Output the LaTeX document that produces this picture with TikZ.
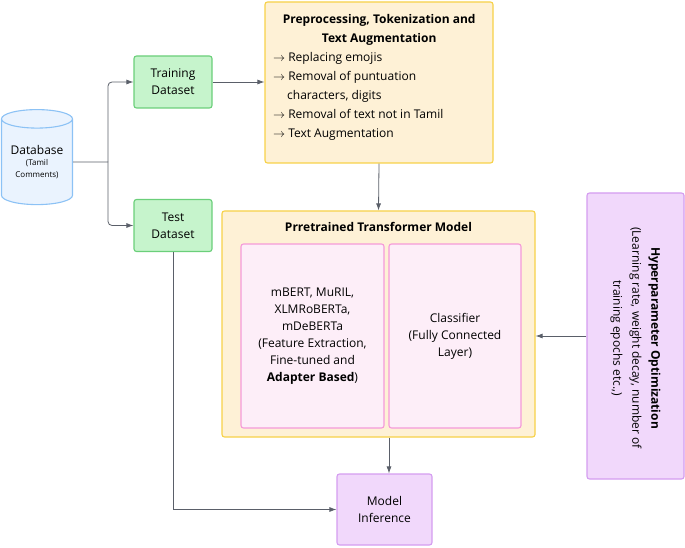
\documentclass[tikz,border=0pt]{standalone}
\usepackage{fontspec}
\setmainfont{Open Sans}
\usetikzlibrary{shapes.geometric,arrows.meta}
\definecolor{gF}{HTML}{C6F4CC}\definecolor{gD}{HTML}{6BCF7A}
\definecolor{bF}{HTML}{EAF3FE}\definecolor{bD}{HTML}{8CC2F5}
\definecolor{yF}{HTML}{FEF1D6}\definecolor{yD}{HTML}{F7D148}
\definecolor{pF}{HTML}{FDEEF8}\definecolor{pD}{HTML}{F59AD9}
\definecolor{vF}{HTML}{F1D8FB}\definecolor{vD}{HTML}{D49DF0}
\definecolor{ar}{HTML}{5A5F69}
\begin{document}
\begin{tikzpicture}[x=1pt,y=-1pt,
 box/.style={draw,rounded corners=2.5pt,line width=1.1pt,align=center,inner sep=0pt,font=\fontsize{12}{17}\selectfont},
 gb/.style={box,fill=gF,draw=gD,minimum width=78pt,minimum height=52pt},
 arr/.style={draw=ar,line width=0.8pt,-{Latex[length=7pt,width=5pt]}}]
\useasboundingbox (0,0) rectangle (685,548);
\node[cylinder,shape border rotate=90,aspect=0.35,draw=bD,fill=bF,line width=1.1pt,minimum width=71pt,minimum height=95pt,inner sep=0pt,align=center] (db) at (37,162) {\fontsize{12}{14}\selectfont Database\\[-1pt]\fontsize{8}{10}\selectfont (Tamil\\\fontsize{8}{10}\selectfont Comments)};
\node[gb] (tr) at (173,82) {Training\\Dataset};
\node[gb] (te) at (173,225.5) {Test\\Dataset};
\node[box,fill=yF,draw=yD,minimum width=228pt,minimum height=161pt] (pp) at (379,82.5) {};
\node[anchor=north west,align=left,font=\fontsize{12}{19}\selectfont,inner sep=0pt] (ppt) at (273,14) {\hspace*{0pt}\makebox[212pt]{\bfseries Preprocessing, Tokenization and}\\\makebox[212pt]{\bfseries Text Augmentation}\\$\rightarrow$ Replacing emojis\\$\rightarrow$ Removal of puntuation\\\hspace*{14pt}characters, digits\\$\rightarrow$ Removal of text not in Tamil\\$\rightarrow$ Text Augmentation};
\node[box,fill=yF,draw=yD,minimum width=313pt,minimum height=226pt] (tm) at (378.5,324) {};
\node[font=\bfseries\fontsize{12}{14}\selectfont] (tmt) at (378.5,227) {Prretrained Transformer Model};
\node[box,fill=pF,draw=pD,minimum width=143pt,minimum height=184pt] (bl) at (312.5,336) {mBERT, MuRIL,\\XLMRoBERTa,\\mDeBERTa\\(Feature Extraction,\\Fine-tuned and\\\textbf{Adapter Based})};
\node[box,fill=pF,draw=pD,minimum width=132pt,minimum height=184pt] (cl) at (455,336) {Classifier\\(Fully Connected\\Layer)};
\node[box,fill=vF,draw=vD,minimum width=97pt,minimum height=286pt] (hp) at (635.5,336) {};
\node[rotate=-90,align=center,font=\fontsize{12}{19}\selectfont] (hpt) at (635.5,338) {\textbf{Hyperparameter Optimization}\\(Learning rate, weight decay, number of\\training epochs etc.,)};
\node[box,fill=vF,draw=vD,minimum width=95pt,minimum height=71pt] (mi) at (384.5,509.5) {Model\\Inference};
\coordinate (j) at (108,162);
\draw[draw=ar,line width=0.8pt] (db.east) -- (j);
\draw[arr,rounded corners=4pt] (j) |- (tr.west);
\draw[arr,rounded corners=4pt] (j) |- (te.west);
\draw[arr] (tr.east) -- (pp.west|-tr.east);
\draw[arr] (pp.south) -- (tm.north);
\draw[arr] (te.south) |- (mi.west);
\draw[arr] (tm.south-|389,0) -- (mi.north-|389,0);
\draw[arr] (hp.west) -- (tm.east|-hp.west);
\end{tikzpicture}
\end{document}
